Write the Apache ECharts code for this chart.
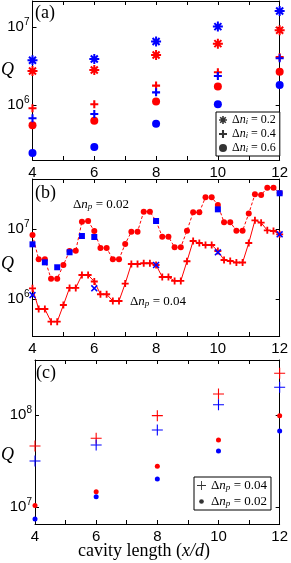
<!DOCTYPE html>
<html><head><meta charset="utf-8">
<script src="https://cdn.jsdelivr.net/npm/echarts@6/dist/echarts.min.js"></script>
<style>html,body{margin:0;padding:0;background:#fff}#c{width:291px;height:563px}</style>
</head><body><div id="c"></div>
<script>
// ---------- Panel (a) ----------
const xA = [4, 6, 8, 10, 12];
const aRedStar  = [2.73e6, 2.81e6, 4.37e6, 6.11e6, 9.07e6];
const aBlueStar = [3.74e6, 3.89e6, 6.49e6, 1.01e7, 1.60e7];
const aRedPlus  = [9.08e5, 1.02e6, 1.77e6, 2.62e6, 4.10e6];
const aBluePlus = [6.75e5, 7.67e5, 1.45e6, 2.35e6, 3.97e6];
const aRedDot   = [5.49e5, 6.29e5, 1.11e6, 1.72e6, 2.67e6];
const aBlueDot  = [2.43e5, 2.90e5, 5.75e5, 1.02e6, 1.80e6];
// ---------- Panel (b) ----------
const xB = [4.0,4.2,4.4,4.6,4.8,5.0,5.2,5.4,5.6,5.8,6.0,6.2,6.4,6.6,6.8,7.0,7.2,7.4,7.6,7.8,8.0,
            8.2,8.4,8.6,8.8,9.0,9.2,9.4,9.6,9.8,10.0,10.2,10.4,10.6,10.8,11.0,11.2,11.4,11.6,11.8,12.0];
const bRed002 = [8.20e6,3.69e6,3.69e6,1.95e6,1.95e6,3.06e6,4.85e6,4.90e6,1.27e7,1.30e7,9.35e6,
                 5.36e6,5.36e6,3.69e6,3.69e6,6.11e6,9.14e6,9.14e6,1.77e7,1.77e7,1.30e7,
                 7.76e6,7.76e6,5.48e6,5.48e6,9.46e6,1.73e7,1.73e7,2.84e7,2.84e7,2.20e7,
                 1.25e7,1.25e7,9.46e6,9.46e6,1.66e7,3.13e7,3.06e7,3.89e7,3.89e7,3.27e7];
const bRed004 = [1.42e6,7.20e5,7.20e5,4.74e5,4.74e5,8.20e5,1.44e6,1.44e6,2.20e6,2.20e6,1.78e6,
                 1.17e6,1.17e6,9.37e5,9.37e5,1.66e6,3.16e6,3.16e6,3.24e6,3.24e6,3.06e6,
                 2.06e6,2.06e6,1.81e6,1.81e6,3.46e6,6.74e6,6.31e6,5.91e6,5.91e6,4.85e6,
                 3.61e6,3.49e6,3.32e6,3.32e6,6.31e6,1.33e7,1.23e7,9.57e6,9.36e6,8.40e6];
const xBsq = [4, 4.4, 4.8, 5.2, 5.6, 6, 8, 10, 12];
const bBlueSq = [6.04e6,3.34e6,2.84e6,4.65e6,7.94e6,7.69e6,1.30e7,1.91e7,3.24e7];
const xBx = [4, 6, 8, 10, 12];
const bBlueX = [1.14e6,1.42e6,3.06e6,4.65e6,8.40e6];
// ---------- Panel (c) ----------
const xC = [4, 6, 8, 10, 12];
const cRedPlus  = [4.60e7,5.58e7,9.84e7,1.69e8,2.84e8];
const cBluePlus = [3.16e7,4.72e7,6.87e7,1.29e8,2.00e8];
const cRedDot   = [1.04e7,1.46e7,2.77e7,5.35e7,9.80e7];
const cBlueDot  = [7.41e6,1.29e7,2.01e7,4.06e7,6.70e7];
const xTickLabels = ['4','6','8','10','12'];

const RED = '#ff0000', BLUE = '#0000ff';
const STAR = 'path://M-1,-5L1,-5L1,5L-1,5Z M-5,-1L5,-1L5,1L-5,1Z M-2.79,-4.21L4.21,2.79L2.79,4.21L-4.21,-2.79Z M-4.21,2.79L2.79,-4.21L4.21,-2.79L-2.79,4.21Z';
const PLUS = 'path://M-1.3,-5L1.3,-5L1.3,-1.3L5,-1.3L5,1.3L1.3,1.3L1.3,5L-1.3,5L-1.3,1.3L-5,1.3L-5,-1.3L-1.3,-1.3Z';
const THINPLUS = 'path://M-0.5,-5L0.5,-5L0.5,-0.5L5,-0.5L5,0.5L0.5,0.5L0.5,5L-0.5,5L-0.5,0.5L-5,0.5L-5,-0.5L-0.5,-0.5Z';
const XMARK = 'path://M-5,-3.4L-3.4,-5L0,-1.6L3.4,-5L5,-3.4L1.6,0L5,3.4L3.4,5L0,1.6L-3.4,5L-5,3.4L-1.6,0Z';
const SMALLDOT = 'path://M-5,-5L-5,-5M5,5L5,5M0,-2.6A2.6,2.6,0,1,1,0,2.6A2.6,2.6,0,1,1,0,-2.6Z';

function pairs(xs, ys){ return xs.map((x,i)=>[x, ys[i]]); }

const grids = [
  {left:32.5, top:1, width:250.5, height:159},
  {left:32.5, top:179, width:250.5, height:157},
  {left:35, top:360, width:248, height:164}
];
const yRanges = [[1.97e5, 2.15e7],[2.96e5, 5.18e7],[6.53e6, 3.96e8]];

const axLine = {show:true, onZero:false, lineStyle:{color:'#000', width:1}};
const xAxes = [], yAxes = [];
grids.forEach((g, gi) => {
  ['bottom','top'].forEach(pos => xAxes.push({
    type:'value', gridIndex:gi, position:pos, min:4, max:12, interval:1,
    axisLine:axLine,
    axisTick:{show:true, inside:true, length:4, lineStyle:{color:'#000'}},
    axisLabel:{show:pos==='bottom', color:'#000', fontSize:15, fontFamily:'Liberation Sans', margin:5,
      formatter: v => { const i = xTickLabels.indexOf(String(v)); return i >= 0 ? xTickLabels[i] : ''; }},
    splitLine:{show:false}
  }));
  ['left','right'].forEach(pos => yAxes.push({
    type:'log', logBase:10, gridIndex:gi, position:pos, min:yRanges[gi][0], max:yRanges[gi][1],
    axisLine:axLine,
    axisTick:{show:true, inside:true, length:4, lineStyle:{color:'#000'}},
    axisLabel:{show:pos==='left', margin:3,
      formatter: v => { const e = Math.log10(v); const r = Math.round(e);
        return Math.abs(e - r) < 1e-6 ? '{b|10}{s|' + r + '}' : ''; },
      rich:{ b:{fontSize:15, fontFamily:'Liberation Sans', color:'#000'},
             s:{fontSize:10, fontFamily:'Liberation Sans', color:'#000', padding:[0,0,9,0]} }},
    splitLine:{show:false}
  }));
});

function sc(ax, name, xs, ys, sym, size, color, z){
  return {type:'scatter', name:name, xAxisIndex:ax*2, yAxisIndex:ax*2, data:pairs(xs, ys), clip:false,
    symbol:sym, symbolSize:size, itemStyle:{color:color, opacity:1}, z:z||2, silent:true};
}
function dummy(ax, name, sym, size){
  return {type:'scatter', name:name, xAxisIndex:ax*2, yAxisIndex:ax*2, data:[], symbol:sym, symbolSize:size, itemStyle:{color:'#000'}};
}

const series = [
  sc(0,'aRS',xA,aRedStar,STAR,10,RED,2),
  sc(0,'aBS',xA,aBlueStar,STAR,10,BLUE,3),
  sc(0,'aRP',xA,aRedPlus,PLUS,8,RED,2),
  sc(0,'aBP',xA,aBluePlus,PLUS,8,BLUE,3),
  sc(0,'aRD',xA,aRedDot,'circle',8,RED,2),
  sc(0,'aBD',xA,aBlueDot,'circle',8,BLUE,3),
  {type:'line', name:'b002', xAxisIndex:2, yAxisIndex:2, data:pairs(xB,bRed002), symbol:'circle', symbolSize:6, clip:false,
    itemStyle:{color:RED}, lineStyle:{color:RED, width:1, type:[3,2]}, z:2, silent:true},
  {type:'line', name:'b004', xAxisIndex:2, yAxisIndex:2, data:pairs(xB,bRed004), symbol:PLUS, symbolSize:7, clip:false,
    itemStyle:{color:RED}, lineStyle:{color:RED, width:1}, z:2, silent:true},
  sc(1,'bSq',xBsq,bBlueSq,'rect',6,BLUE,4),
  sc(1,'bX',xBx,bBlueX,XMARK,7,BLUE,4),
  sc(2,'cRP',xC,cRedPlus,THINPLUS,11,RED,2),
  sc(2,'cBP',xC,cBluePlus,THINPLUS,11,BLUE,3),
  sc(2,'cRD',xC,cRedDot,'circle',5,RED,2),
  sc(2,'cBD',xC,cBlueDot,'circle',5,BLUE,3),
  dummy(0,'La1',STAR,8), dummy(0,'La2',PLUS,8), dummy(0,'La3','circle',7),
  dummy(2,'Lc1',THINPLUS,9), dummy(2,'Lc2',SMALLDOT,9)
];

const legLabels = {
  La1:'{t|Δ}{i|n}{sub|i}{t| = 0.2}', La2:'{t|Δ}{i|n}{sub|i}{t| = 0.4}', La3:'{t|Δ}{i|n}{sub|i}{t| = 0.6}',
  Lc1:'{t|Δ}{i|n}{sub|p}{t| = 0.04}', Lc2:'{t|Δ}{i|n}{sub|p}{t| = 0.02}'
};
function richFor(fs){
  return { t:{fontFamily:'Liberation Serif', fontSize:fs, color:'#000'},
           i:{fontFamily:'Liberation Serif', fontStyle:'italic', fontSize:fs, color:'#000'},
           sub:{fontFamily:'Liberation Serif', fontStyle:'italic', fontSize:fs*0.7, color:'#000', padding:[4,0,0,0]} };
}
const legendBase = {orient:'vertical', selectedMode:false, backgroundColor:'#fff', borderColor:'#000', borderWidth:1,
  borderRadius:0, itemWidth:8, itemHeight:8, formatter: n => legLabels[n]};

const opt = {
  animation:false,
  grid:grids,
  xAxis:xAxes, yAxis:yAxes,
  series:series,
  legend:[
    Object.assign({}, legendBase, {data:['La1','La2','La3'], left:216, top:112, padding:[2,4,2,3], itemGap:2,
      textStyle:{rich:richFor(12)}}),
    Object.assign({}, legendBase, {data:['Lc1','Lc2'], left:194, top:477, padding:[2,4,2,3], itemGap:3, itemWidth:9, itemHeight:9,
      textStyle:{rich:richFor(13)}})
  ],
  graphic:[
    {type:'text', left:35, top:4, style:{text:'(a)', font:'18px "Liberation Serif"', fill:'#000'}},
    {type:'text', left:35, top:184, style:{text:'(b)', font:'18px "Liberation Serif"', fill:'#000'}},
    {type:'text', left:36, top:364, style:{text:'(c)', font:'18px "Liberation Serif"', fill:'#000'}},
    {type:'text', left:1, top:61, style:{text:'Q', font:'italic 18px "Liberation Serif"', fill:'#000'}},
    {type:'text', left:1, top:255, style:{text:'Q', font:'italic 18px "Liberation Serif"', fill:'#000'}},
    {type:'text', left:1, top:446, style:{text:'Q', font:'italic 18px "Liberation Serif"', fill:'#000'}},
    {type:'text', left:73, top:198, style:{text:'{t|Δ}{i|n}{sub|p}{t| = 0.02}', rich:richFor(13)}},
    {type:'text', left:130, top:295, style:{text:'{t|Δ}{i|n}{sub|p}{t| = 0.04}', rich:richFor(13)}},
    {type:'text', left:78, top:542, style:{text:'{t|cavity length (}{i|x/d}{t|)}', rich:{
      t:{fontFamily:'Liberation Serif', fontSize:18, color:'#000'},
      i:{fontFamily:'Liberation Serif', fontStyle:'italic', fontSize:18, color:'#000'}}}}
  ]
};
const chart = echarts.init(document.getElementById('c'), null, {renderer:'canvas'});
chart.setOption(opt);
</script>
</body></html>
